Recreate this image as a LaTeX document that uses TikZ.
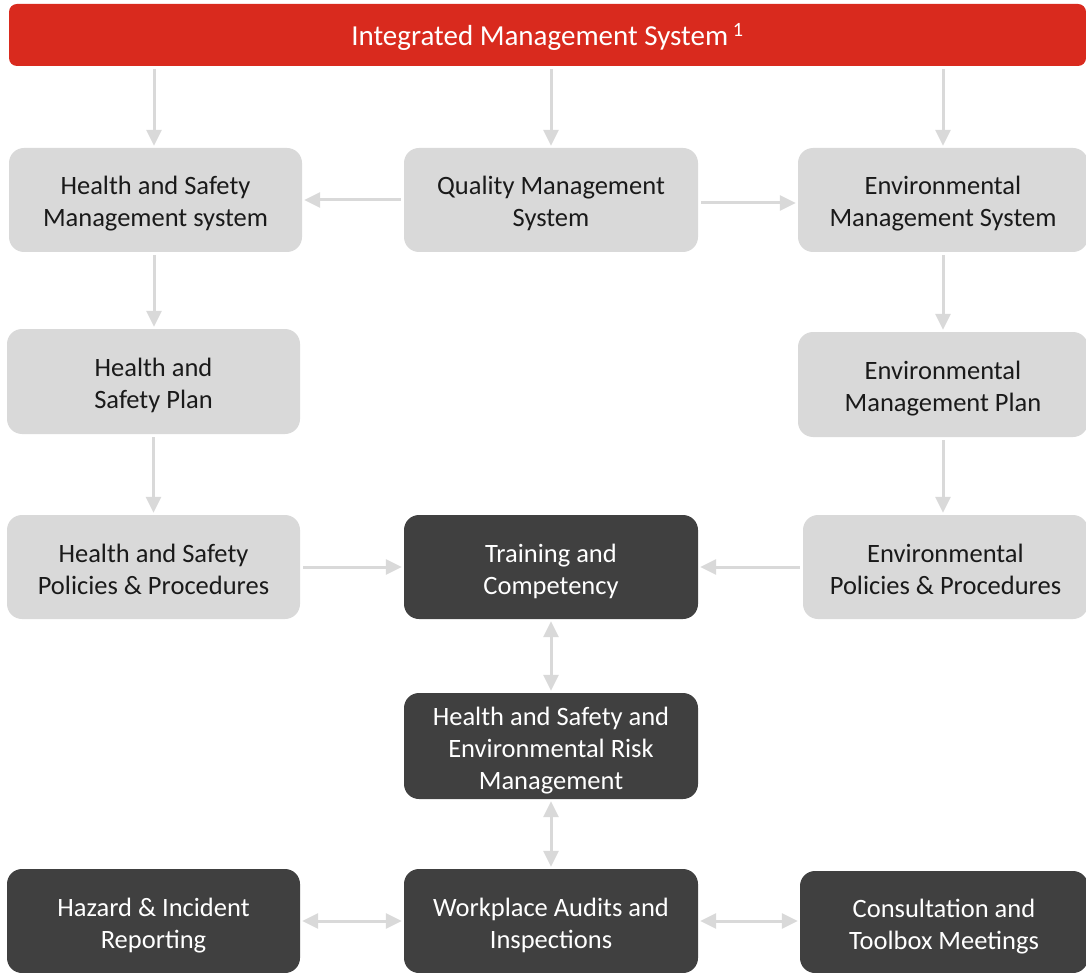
\documentclass[tikz,border=0pt]{standalone}
\usepackage{fontspec}
\setmainfont{Carlito}
\usetikzlibrary{arrows.meta,calc}
\definecolor{imsred}{HTML}{D92A1E}
\definecolor{lightbox}{HTML}{D9D9D9}
\definecolor{darkbox}{HTML}{404040}
\definecolor{arrowgray}{HTML}{D9D9D9}
\definecolor{txtdark}{HTML}{1A1A1A}
\newcommand\mytopst{\rule{0pt}{28pt}}
\newcommand\mybotst{\rule[-6pt]{0pt}{0pt}}
\tikzset{
  box/.style={rounded corners=15pt, inner sep=0pt, minimum height=104pt,
    align=center, font=\fontsize{26.5}{32}\selectfont},
  lightb/.style={box, fill=lightbox, text=txtdark},
  darkb/.style={box, fill=darkbox, text=white},
  conn/.style={draw=arrowgray, line width=3pt,
    -{Triangle[length=16pt,width=15pt]}, shorten >=2pt, shorten <=3pt},
  dconn/.style={conn, {Triangle[length=16pt,width=15pt]}-{Triangle[length=16pt,width=15pt]}, shorten >=2pt, shorten <=2pt}
}
\begin{document}
\begin{tikzpicture}[x=1pt,y=-1pt]
\useasboundingbox (0,0) rectangle (1086,973);
\node[box, fill=imsred, text=white, minimum width=1077pt, minimum height=62pt, rounded corners=8pt, font=\fontsize{29}{34}\selectfont] (ims) at (547.5,35) {\mytopst Integrated Management System\,\textsuperscript{1}\mybotst};
\node[lightb, minimum width=293pt] (hs) at (155.5,200) {\mytopst Health and Safety\\Management system\mybotst};
\node[lightb, minimum width=294pt] (qms) at (551,200) {\mytopst Quality Management\\System\mybotst};
\node[lightb, minimum width=290pt] (ems) at (943,200) {\mytopst Environmental\\Management System\mybotst};
\node[lightb, minimum width=293pt, minimum height=105pt] (hsp) at (153.5,381.5) {\mytopst Health and\\Safety Plan\mybotst};
\node[lightb, minimum width=290pt, minimum height=105pt] (emp) at (943,384.5) {\mytopst Environmental\\Management Plan\mybotst};
\node[lightb, minimum width=293pt] (hspp) at (153.5,567) {\mytopst Health and Safety\\Policies \& Procedures\mybotst};
\node[darkb, minimum width=294pt] (tc) at (551,567) {\mytopst Training and\\Competency\mybotst};
\node[lightb, minimum width=285pt] (epp) at (945.5,567) {\mytopst Environmental\\Policies \& Procedures\mybotst};
\node[darkb, minimum width=294pt, minimum height=106pt] (hserm) at (551,746) {\mytopst Health and Safety and\\Environmental Risk\\Management\mybotst};
\node[darkb, minimum width=293pt] (hir) at (153.5,921) {\mytopst Hazard \& Incident\\Reporting\mybotst};
\node[darkb, minimum width=294pt] (wai) at (551,921) {\mytopst Workplace Audits and\\Inspections\mybotst};
\node[darkb, minimum width=288pt, minimum height=102pt] (ctm) at (944,922) {\mytopst Consultation and\\Toolbox Meetings\mybotst};
% connectors
\draw[conn] ($(ims.south)+(-393.5,0)$) coordinate (a1) -- (a1 |- hs.north);
\draw[conn] (ims.south -| qms.north) -- (qms.north);
\draw[conn] (ims.south -| ems.north) -- (ems.north);
\draw[conn] (qms.west) -- (qms.west -| hs.east);
\draw[conn] ($(qms.east)+(0,3)$) coordinate (a2) -- (a2 -| ems.west);
\draw[conn] ($(hs.south)+(-1.5,0)$) coordinate (a3) -- (a3 |- hsp.north);
\draw[conn] (hsp.south) -- (hsp.south |- hspp.north);
\draw[conn] (ems.south) -- (ems.south |- emp.north);
\draw[conn] (emp.south) -- (emp.south |- epp.north);
\draw[conn] (hspp.east) -- (hspp.east -| tc.west);
\draw[conn] (epp.west) -- (epp.west -| tc.east);
\draw[dconn] (tc.south) -- (hserm.north);
\draw[dconn] (hserm.south) -- (wai.north);
\draw[dconn] (hir.east) -- (hir.east -| wai.west);
\draw[dconn] (wai.east) -- (wai.east -| ctm.west);
\end{tikzpicture}
\end{document}
